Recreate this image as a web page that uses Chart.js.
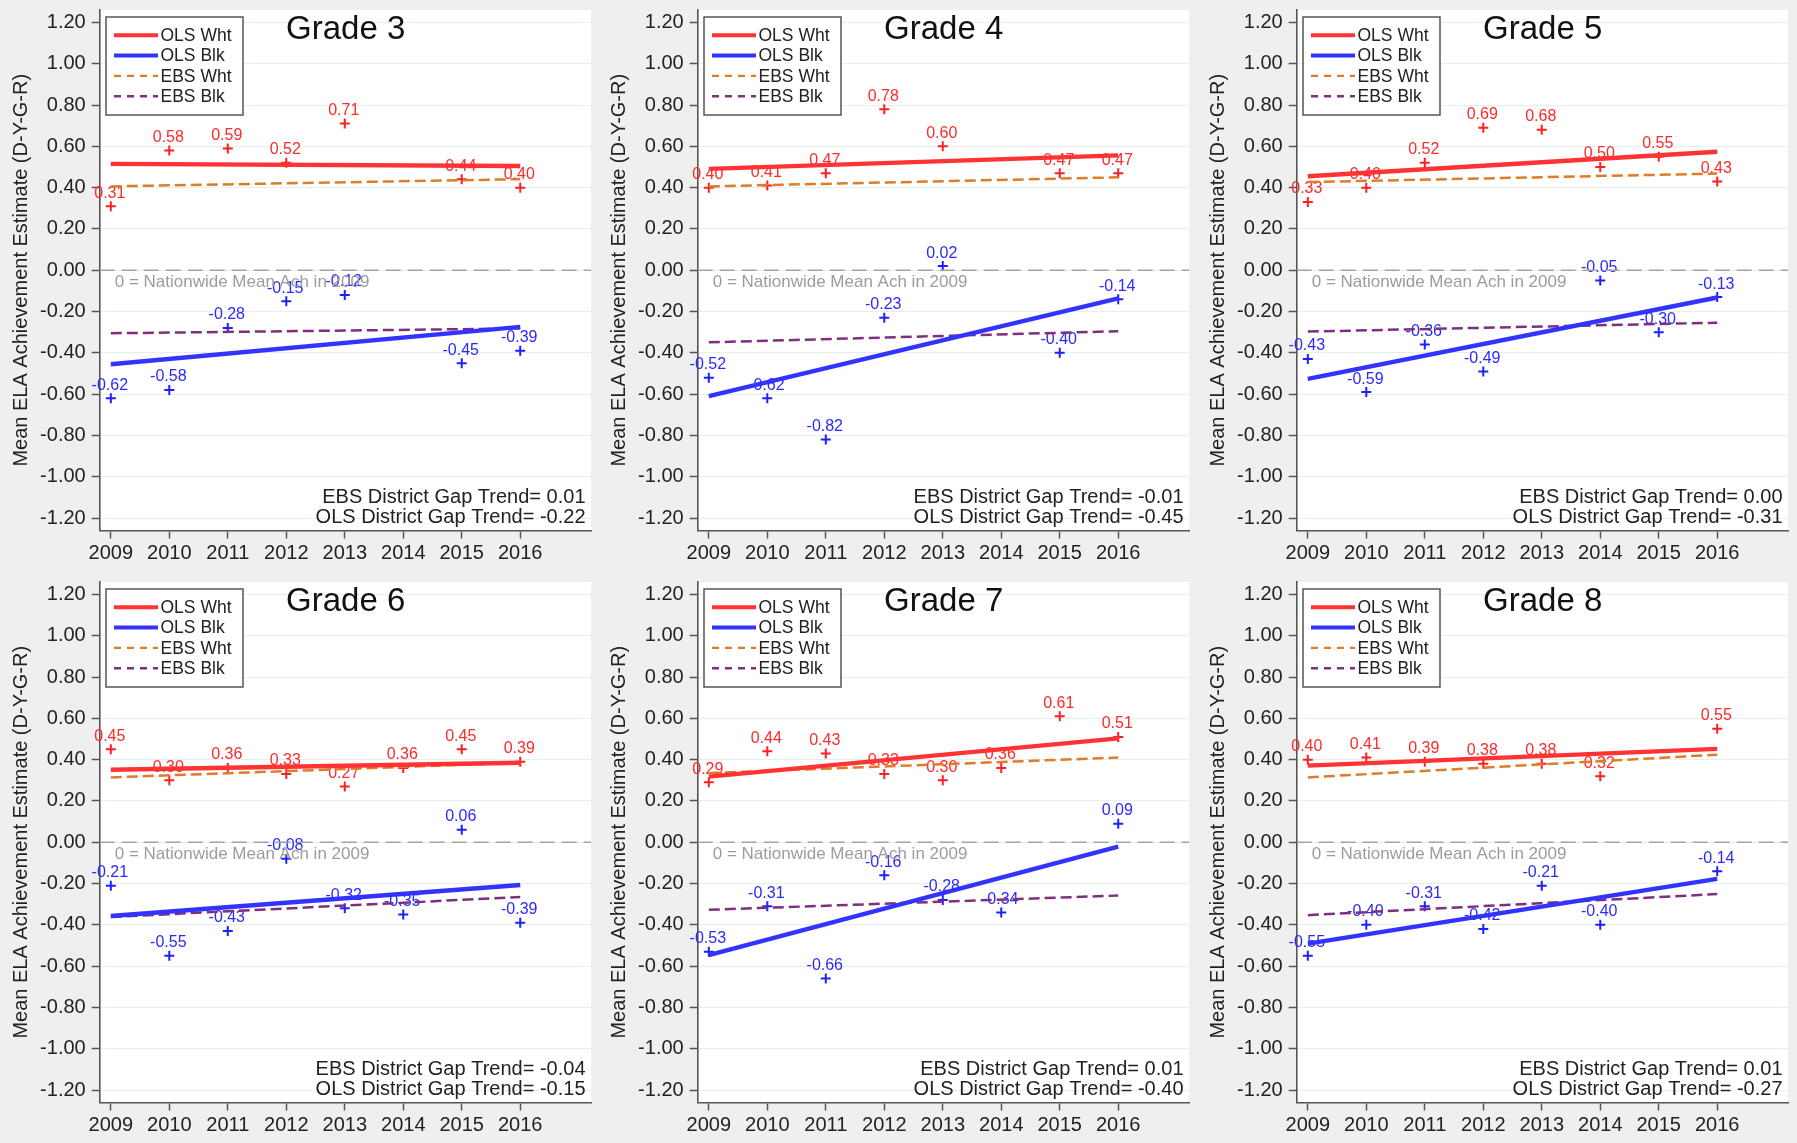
<!DOCTYPE html>
<html>
<head>
<meta charset="utf-8">
<title>Mean ELA Achievement Estimate by Grade</title>
<script src="https://cdn.jsdelivr.net/npm/chart.js@4.4.1/dist/chart.umd.min.js"></script>
<style>
  html, body { margin: 0; padding: 0; background: #efefef; }
  #wrap { position: relative; width: 1797px; height: 1143px; overflow: hidden; background: #efefef; }
  .panel { position: absolute; width: 598px; height: 572px; }
  .panel canvas { display: block; }
</style>
</head>
<body>
<div id="wrap"></div>
<script>
// ---- data ----------------------------------------------------------------
const years = [2009, 2010, 2011, 2012, 2013, 2014, 2015, 2016];
const gradeTitles = ['Grade 3', 'Grade 4', 'Grade 5', 'Grade 6', 'Grade 7', 'Grade 8'];

// district mean estimates by year (null = no estimate that year)
const wht3 = [0.31, 0.58, 0.59, 0.52, 0.71, null, 0.44, 0.40];
const blk3 = [-0.62, -0.58, -0.28, -0.15, -0.12, null, -0.45, -0.39];
const wht4 = [0.40, 0.41, 0.47, 0.78, 0.60, null, 0.47, 0.47];
const blk4 = [-0.52, -0.62, -0.82, -0.23, 0.02, null, -0.40, -0.14];
const wht5 = [0.33, 0.40, 0.52, 0.69, 0.68, 0.50, 0.55, 0.43];
const blk5 = [-0.43, -0.59, -0.36, -0.49, null, -0.05, -0.30, -0.13];
const wht6 = [0.45, 0.30, 0.36, 0.33, 0.27, 0.36, 0.45, 0.39];
const blk6 = [-0.21, -0.55, -0.43, -0.08, -0.32, -0.35, 0.06, -0.39];
const wht7 = [0.29, 0.44, 0.43, 0.33, 0.30, 0.36, 0.61, 0.51];
const blk7 = [-0.53, -0.31, -0.66, -0.16, -0.28, -0.34, null, 0.09];
const wht8 = [0.40, 0.41, 0.39, 0.38, 0.38, 0.32, null, 0.55];
const blk8 = [-0.55, -0.40, -0.31, -0.42, -0.21, -0.40, null, -0.14];

// fitted trend lines: value at 2009 and at 2016, one entry per grade (3..8)
const olsWhtStart = [0.515, 0.491, 0.455, 0.351, 0.318, 0.371];
const olsWhtEnd   = [0.505, 0.556, 0.574, 0.385, 0.503, 0.452];
const olsBlkStart = [-0.455, -0.609, -0.526, -0.357, -0.547, -0.491];
const olsBlkEnd   = [-0.274, -0.136, -0.132, -0.207, -0.021, -0.177];
const ebsWhtStart = [0.406, 0.406, 0.427, 0.314, 0.335, 0.314];
const ebsWhtEnd   = [0.441, 0.450, 0.468, 0.385, 0.410, 0.424];
const ebsBlkStart = [-0.305, -0.349, -0.297, -0.362, -0.327, -0.353];
const ebsBlkEnd   = [-0.282, -0.295, -0.254, -0.265, -0.258, -0.251];

// gap trend annotations
const ebsGapTrend = ['0.01', '-0.01', '0.00', '-0.04', '0.01', '0.01'];
const olsGapTrend = ['-0.22', '-0.45', '-0.31', '-0.15', '-0.40', '-0.27'];

// axis ticks
const yTicks = [-1.2, -1.0, -0.8, -0.6, -0.4, -0.2, 0.0, 0.2, 0.4, 0.6, 0.8, 1.0, 1.2];
const xTicks = years;
const legendLabels = ['OLS Wht', 'OLS Blk', 'EBS Wht', 'EBS Blk'];
const yTitle = 'Mean ELA Achievement Estimate (D-Y-G-R)';
const zeroNote = '0 = Nationwide Mean Ach in 2009';

const whtByGrade = [wht3, wht4, wht5, wht6, wht7, wht8];
const blkByGrade = [blk3, blk4, blk5, blk6, blk7, blk8];

// ---- styling ---------------------------------------------------------------
const FONT = "'Liberation Sans', Arial, Helvetica, sans-serif";
const C = {
  olsWht: '#ff3333', olsBlk: '#3333ff',
  ebsWht: '#e07b28', ebsBlk: '#7f2f80',
  markWht: '#ff1f1f', markBlk: '#1f1fff',
  labWht: '#ff2a2a', labBlk: '#2a2aff',
  zero: '#a3a3a3', note: '#9c9c9c',
  axis: '#555555', text: '#222222', grid: '#e6eeee'
};
const X_MIN = 2008.81, X_MAX = 2017.21, Y_MIN = -1.26, Y_MAX = 1.26;
const colX = [0, 598, 1197];
const rowY = [1, 573];

function points(vals) {
  const out = [];
  vals.forEach((v, i) => { if (v !== null) out.push({ x: years[i], y: v }); });
  return out;
}
function seg(a, b) { return [{ x: years[0], y: a }, { x: years[years.length - 1], y: b }]; }

// white plotting region
const plotBg = {
  id: 'plotBg',
  beforeDraw(chart) {
    const a = chart.chartArea, ctx = chart.ctx;
    ctx.save();
    ctx.fillStyle = '#ffffff';
    ctx.fillRect(a.left, a.top, a.right - a.left, a.bottom - a.top);
    ctx.restore();
  }
};

// value labels above each marker, and the note under the zero line
const markLabels = {
  id: 'markLabels',
  afterDatasetDraw(chart, args) {
    const ds = chart.data.datasets[args.index];
    const ctx = chart.ctx;
    if (ds.labelColor) {
      ctx.save();
      ctx.font = '16px ' + FONT;
      ctx.fillStyle = ds.labelColor;
      ctx.textAlign = 'center';
      ctx.textBaseline = 'middle';
      args.meta.data.forEach((el, j) => {
        ctx.fillText(ds.data[j].y.toFixed(2), el.x - 1, el.y - 13);
      });
      ctx.restore();
    }
    if (ds.isZero) {
      const y0 = chart.scales.y.getPixelForValue(0);
      ctx.save();
      ctx.font = '17px ' + FONT;
      ctx.fillStyle = C.note;
      ctx.textAlign = 'left';
      ctx.textBaseline = 'middle';
      ctx.fillText(zeroNote, chart.chartArea.left + 15, y0 + 12);
      ctx.restore();
    }
  }
};

// title, legend box and gap-trend notes
const decorations = {
  id: 'decorations',
  afterDatasetsDraw(chart, args, opts) {
    const a = chart.chartArea, ctx = chart.ctx;
    const g = opts.grade;
    ctx.save();
    // title
    ctx.font = '33px ' + FONT;
    ctx.fillStyle = '#111111';
    ctx.textAlign = 'center';
    ctx.textBaseline = 'middle';
    ctx.fillText(gradeTitles[g], a.left + 246, a.top + 20);

    // legend
    const lx = a.left + 6.3, ly = a.top + 7, lw = 137, lh = 98;
    ctx.fillStyle = '#ffffff';
    ctx.fillRect(lx, ly, lw, lh);
    ctx.strokeStyle = '#555555';
    ctx.lineWidth = 1.5;
    ctx.strokeRect(lx, ly, lw, lh);
    const items = [
      { c: C.olsWht, w: 4, d: [] },
      { c: C.olsBlk, w: 4, d: [] },
      { c: C.ebsWht, w: 2.4, d: [7, 6] },
      { c: C.ebsBlk, w: 2.4, d: [7, 6] }
    ];
    items.forEach((it, k) => {
      const yy = ly + 18.3 + k * 20.3;
      ctx.beginPath();
      ctx.setLineDash(it.d);
      ctx.strokeStyle = it.c;
      ctx.lineWidth = it.w;
      ctx.moveTo(lx + 8, yy);
      ctx.lineTo(lx + 52, yy);
      ctx.stroke();
      ctx.setLineDash([]);
      ctx.font = '17.5px ' + FONT;
      ctx.fillStyle = C.text;
      ctx.textAlign = 'left';
      ctx.textBaseline = 'middle';
      ctx.fillText(legendLabels[k], lx + 54.5, yy + 1);
    });

    // gap trend notes
    ctx.font = '20px ' + FONT;
    ctx.fillStyle = C.text;
    ctx.textAlign = 'right';
    ctx.textBaseline = 'middle';
    ctx.fillText('EBS District Gap Trend= ' + ebsGapTrend[g], a.right - 5.5, a.bottom - 33.5);
    ctx.fillText('OLS District Gap Trend= ' + olsGapTrend[g], a.right - 5.5, a.bottom - 13);
    ctx.restore();
  }
};

function makePanel(g) {
  const wrap = document.getElementById('wrap');
  const div = document.createElement('div');
  div.className = 'panel';
  div.style.left = colX[g % 3] + 'px';
  div.style.top = rowY[Math.floor(g / 3)] + 'px';
  const cv = document.createElement('canvas');
  cv.width = 598; cv.height = 572;
  cv.style.width = '598px'; cv.style.height = '572px';
  div.appendChild(cv);
  wrap.appendChild(div);

  const datasets = [
    { label: 'OLS Wht', data: seg(olsWhtStart[g], olsWhtEnd[g]), showLine: true, borderColor: C.olsWht,
      borderWidth: 4.4, pointRadius: 0, order: 1 },
    { label: 'OLS Blk', data: seg(olsBlkStart[g], olsBlkEnd[g]), showLine: true, borderColor: C.olsBlk,
      borderWidth: 4.4, pointRadius: 0, order: 2 },
    { label: 'EBS Wht', data: seg(ebsWhtStart[g], ebsWhtEnd[g]), showLine: true, borderColor: C.ebsWht,
      borderWidth: 2.5, borderDash: [11, 5], pointRadius: 0, order: 3 },
    { label: 'EBS Blk', data: seg(ebsBlkStart[g], ebsBlkEnd[g]), showLine: true, borderColor: C.ebsBlk,
      borderWidth: 2.5, borderDash: [11, 5], pointRadius: 0, order: 4 },
    { label: 'zero', data: [{ x: X_MIN, y: 0 }, { x: X_MAX, y: 0 }], showLine: true, borderColor: C.zero,
      borderWidth: 1.6, borderDash: [15, 7], pointRadius: 0, order: 6, isZero: true },
    { label: 'Wht', data: points(whtByGrade[g]), pointStyle: 'cross', pointRadius: 5, pointBorderWidth: 2,
      borderColor: C.markWht, backgroundColor: C.markWht, showLine: false, order: 8, labelColor: C.labWht },
    { label: 'Blk', data: points(blkByGrade[g]), pointStyle: 'cross', pointRadius: 5, pointBorderWidth: 2,
      borderColor: C.markBlk, backgroundColor: C.markBlk, showLine: false, order: 9, labelColor: C.labBlk }
  ];

  new Chart(cv, {
    type: 'scatter',
    data: { datasets },
    options: {
      responsive: false,
      animation: false,
      devicePixelRatio: 1,
      events: [],
      layout: { padding: { top: 9, right: 5.5, left: 0, bottom: 0 } },
      plugins: {
        legend: { display: false },
        tooltip: { enabled: false },
        decorations: { grade: g }
      },
      scales: {
        x: {
          type: 'linear', min: X_MIN, max: X_MAX,
          afterBuildTicks: s => { s.ticks = xTicks.map(v => ({ value: v })); },
          afterFit: s => { s.height = 42.5; s.paddingLeft = 0; s.paddingRight = 0; },
          ticks: { callback: v => String(v), font: { family: FONT, size: 20 }, color: C.text,
                   padding: 3, maxRotation: 0, autoSkip: false },
          grid: { drawOnChartArea: false, drawTicks: true, tickLength: 8, tickColor: C.axis, tickWidth: 1.5 },
          border: { display: true, color: C.axis, width: 1.6 }
        },
        y: {
          type: 'linear', min: Y_MIN, max: Y_MAX,
          afterBuildTicks: s => { s.ticks = yTicks.map(v => ({ value: v })); },
          afterFit: s => { s.width = 99.7; s.paddingTop = 0; s.paddingBottom = 0; },
          ticks: { callback: v => v.toFixed(2), font: { family: FONT, size: 20 }, color: C.text,
                   padding: 6, autoSkip: false },
          grid: { color: C.grid, lineWidth: 1, drawTicks: true, tickLength: 8, tickColor: C.axis, tickWidth: 1.5 },
          border: { display: true, color: C.axis, width: 1.6 },
          title: { display: true, text: yTitle, font: { family: FONT, size: 20 }, color: C.text,
                   padding: { top: 9, bottom: 0 } }
        }
      }
    },
    plugins: [plotBg, markLabels, decorations]
  });
}

for (let g = 0; g < 6; g++) makePanel(g);
</script>
</body>
</html>
